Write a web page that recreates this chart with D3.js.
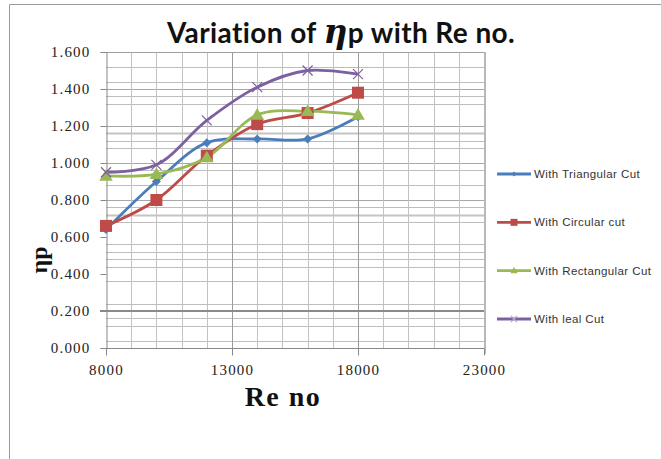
<!DOCTYPE html>
<html>
<head>
<meta charset="utf-8">
<script src="https://cdn.jsdelivr.net/npm/d3@7"></script>
<style>
  html, body { margin: 0; padding: 0; background: #fff; }
  svg { display: block; }
</style>
</head>
<body>
<svg id="chart" width="661" height="459"></svg>
<script>
// Reynolds numbers tested
const reNumbers = [8000, 10000, 12000, 14000, 16000, 18000];

// Propulsive efficiency for each blade cut
const triangularCut  = [0.64, 0.90, 1.11, 1.13, 1.13, 1.25];
const circularCut    = [0.66, 0.80, 1.04, 1.21, 1.27, 1.38];
const rectangularCut = [0.93, 0.94, 1.03, 1.26, 1.28, 1.26];
const idealCut       = [0.95, 0.99, 1.23, 1.41, 1.50, 1.48];

const seriesNames = ["With Triangular Cut", "With Circular cut", "With Rectangular Cut", "With leal Cut"];

// Axis ticks
const xTicks = [8000, 13000, 18000, 23000];
const xMinorTicks = [9000, 10000, 11000, 12000, 14000, 15000, 16000, 17000, 19000, 20000, 21000, 22000];
const yTicks = [0, 0.2, 0.4, 0.6, 0.8, 1.0, 1.2, 1.4, 1.6];
const yMinorGrid = [1.52, 1.44, 1.40, 1.36, 1.32, 1.20, 1.16, 1.12, 1.08, 1.00, 0.96, 0.88, 0.80,
                    0.76, 0.72, 0.68, 0.56, 0.52, 0.48, 0.44, 0.36, 0.24, 0.16, 0.12, 0.04];

const svg = d3.select("#chart");

const x = d3.scaleLinear().domain([8000, 23000]).range([106, 484]);
const y = d3.scaleLinear().domain([0, 1.6]).range([348, 52]);

// outer frame
svg.append("path").attr("d", "M9.5,459 V4.5 H661")
  .attr("fill", "none").attr("stroke", "#9a9a9a").attr("stroke-width", 1);

// horizontal grid
const darkerRows = [1.40, 1.20, 1.00, 0.80];
const thickRows = [1.16, 0.72];
svg.append("g").selectAll("line").data(yMinorGrid).join("line")
  .attr("x1", x(8000)).attr("x2", x(23000))
  .attr("y1", d => Math.round(y(d)) + 0.5).attr("y2", d => Math.round(y(d)) + 0.5)
  .attr("stroke", d => thickRows.includes(d) ? "#c4c4c4" : darkerRows.includes(d) ? "#a8a8a8" : "#bdbdbd")
  .attr("stroke-width", d => thickRows.includes(d) ? 2 : 1);

// vertical grid
svg.append("g").selectAll("line").data(xMinorTicks).join("line")
  .attr("x1", d => Math.round(x(d)) + 0.5).attr("x2", d => Math.round(x(d)) + 0.5)
  .attr("y1", y(1.6)).attr("y2", y(0))
  .attr("stroke", "#c2c2c2").attr("stroke-width", 1);
svg.append("g").selectAll("line").data([13000, 18000]).join("line")
  .attr("x1", d => Math.round(x(d)) + 0.5).attr("x2", d => Math.round(x(d)) + 0.5)
  .attr("y1", y(1.6)).attr("y2", y(0))
  .attr("stroke", "#9c9c9c").attr("stroke-width", 1);

// top and right edges of the plot area
svg.append("line").attr("x1", x(8000)).attr("x2", x(23000))
  .attr("y1", Math.round(y(1.6)) + 0.5).attr("y2", Math.round(y(1.6)) + 0.5)
  .attr("stroke", "#a0a0a0");
svg.append("line").attr("x1", x(23000) + 1).attr("x2", x(23000) + 1)
  .attr("y1", y(1.6)).attr("y2", y(0) + 6)
  .attr("stroke", "#b8b8b8").attr("stroke-width", 2);

// strong 0.2 line
svg.append("line").attr("x1", x(8000) - 6).attr("x2", x(23000))
  .attr("y1", y(0.2)).attr("y2", y(0.2))
  .attr("stroke", "#8a8a8a").attr("stroke-width", 2);

// axes
const yAxis = d3.axisLeft(y).tickValues(yTicks).tickFormat(d3.format(".3f")).tickSize(6).tickPadding(10);
const yG = svg.append("g").attr("transform", `translate(${Math.round(x(8000)) + 0.5},0)`).call(yAxis);
const xAxis = d3.axisBottom(x).tickValues(xTicks).tickFormat(d3.format("d")).tickSize(7).tickPadding(9);
const xG = svg.append("g").attr("transform", `translate(0,${Math.round(y(0)) + 0.5})`).call(xAxis);

[yG, xG].forEach(g => {
  g.select(".domain").attr("stroke", "#888");
  g.selectAll(".tick line").attr("stroke", "#888");
  g.selectAll(".tick text")
    .attr("font-family", "'Liberation Serif', 'Times New Roman', serif")
    .attr("font-size", 15).attr("letter-spacing", 1.2).attr("fill", "#222");
});
xG.select(".domain").attr("d", `M${x(8000)},0H${x(23000)}`);

// title
const title = svg.append("text").attr("x", 341).attr("y", 43).attr("text-anchor", "middle")
  .attr("font-family", "Lato, 'Liberation Sans', sans-serif").attr("font-weight", "bold")
  .attr("font-size", 28).attr("letter-spacing", 0.4).attr("fill", "#111");
title.append("tspan").text("Variation of   ");
title.append("tspan").attr("font-style", "italic").attr("font-size", 33).attr("font-family", "'DejaVu Serif', serif").text("η");
title.append("tspan").text("p with Re no.");

// axis titles
svg.append("text").attr("transform", "translate(47,260) rotate(-90)").attr("text-anchor", "middle")
  .attr("font-family", "'Liberation Serif', serif").attr("font-weight", "bold")
  .attr("font-size", 24).attr("fill", "#111").text("ηp");
svg.append("text").attr("x", 283).attr("y", 406).attr("text-anchor", "middle")
  .attr("font-family", "'Liberation Serif', serif").attr("font-weight", "bold")
  .attr("font-size", 28).attr("letter-spacing", 1.5).attr("fill", "#111").text("Re no");

// series
const colors = ["#4a7ebb", "#be4b48", "#98b954", "#7d60a0"];
const seriesValues = [triangularCut, circularCut, rectangularCut, idealCut];
const series = seriesNames.map((name, i) => ({
  name, color: colors[i], idx: i,
  points: reNumbers.map((re, j) => ({ re, v: seriesValues[i][j] }))
}));

const line = d3.line().x(d => x(d.re)).y(d => y(d.v)).curve(d3.curveCatmullRom.alpha(0.5));

function drawMarker(g, idx, color, s) {
  if (idx === 0) {
    g.append("path").attr("d", `M0,${-s}L${s},0L0,${s}L${-s},0Z`).attr("fill", color);
  } else if (idx === 1) {
    g.append("rect").attr("x", -s).attr("y", -s).attr("width", 2 * s).attr("height", 2 * s).attr("fill", color);
  } else if (idx === 2) {
    g.append("path").attr("d", `M0,${-s * 1.05}L${s * 1.05},${s * 0.75}L${-s * 1.05},${s * 0.75}Z`).attr("fill", color);
  } else {
    g.append("path").attr("d", `M${-s},${-s}L${s},${s}M${-s},${s}L${s},${-s}`)
      .attr("stroke", color).attr("stroke-width", 1.2).attr("fill", "none");
  }
}

const markerSize = [4.5, 6, 6.5, 5];
const order = [0, 1, 2, 3];
order.forEach(i => {
  const s = series[i];
  svg.append("path").datum(s.points).attr("d", line)
    .attr("fill", "none").attr("stroke", s.color).attr("stroke-width", 2.8);
});
order.forEach(i => {
  const s = series[i];
  s.points.forEach(p => {
    const g = svg.append("g").attr("transform", `translate(${x(p.re)},${y(p.v)})`);
    drawMarker(g, i, s.color, markerSize[i]);
  });
});

// legend
const legendY = d3.scalePoint().domain(seriesNames).range([174, 319]);
const legendMarker = [2.5, 3.5, 3.5, 3];
series.forEach(s => {
  const ly = legendY(s.name);
  svg.append("line").attr("x1", 497).attr("x2", 531).attr("y1", ly).attr("y2", ly)
    .attr("stroke", s.color).attr("stroke-width", 2.8);
  const g = svg.append("g").attr("transform", `translate(514,${ly})`);
  drawMarker(g, s.idx, s.idx === 3 ? "#b3a5cc" : s.color, legendMarker[s.idx]);
  svg.append("text").attr("x", 534).attr("y", ly + 4)
    .attr("font-family", "'Liberation Sans', Arial, sans-serif").attr("font-size", 11.5)
    .attr("letter-spacing", 0.4).attr("fill", "#333").text(s.name);
});
</script>
</body>
</html>
